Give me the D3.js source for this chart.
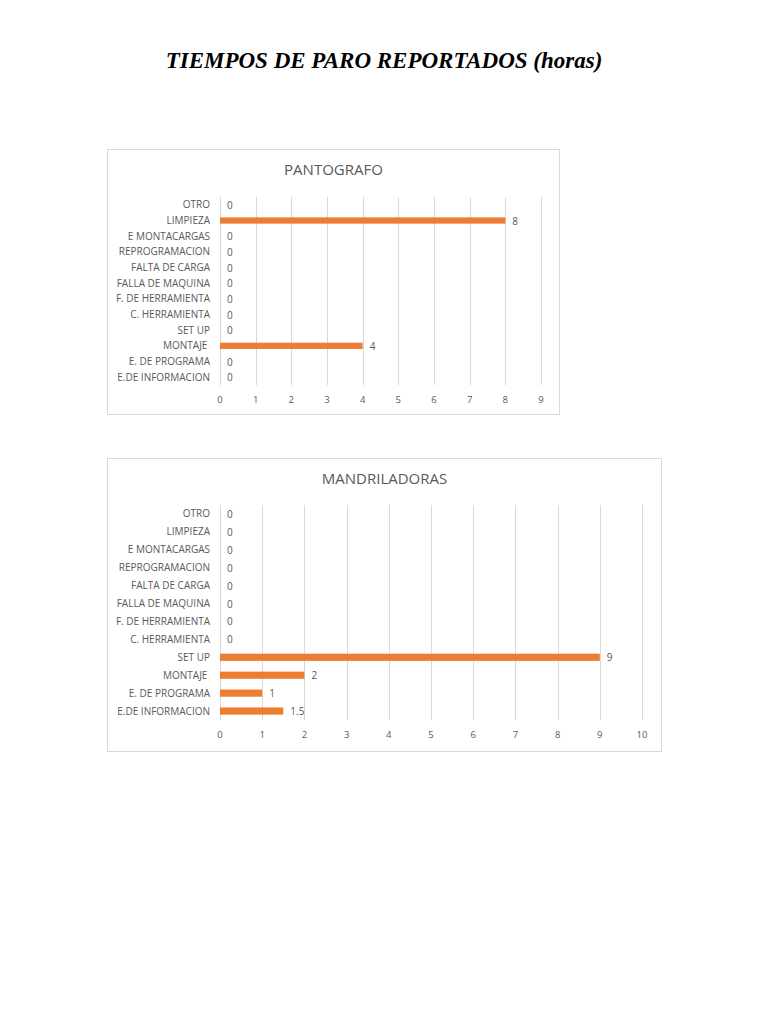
<!DOCTYPE html>
<html>
<head>
    <meta charset="utf-8">
    <title>Tiempos de paro reportados</title>
    <script src="https://d3js.org/d3.v7.min.js"></script>
    <style>
        body {
            margin: 0;
            background: white;
        }
        svg {
            display: block;
        }
        .cat, .val, .tick-lbl, .ctitle {
            font-family: 'Open Sans', sans-serif;
            fill: #595959;
        }
        .cat { white-space: pre; }
    </style>
</head>
<body>
<svg width="768" height="1024"></svg>

<script>
    // categories, top to bottom as drawn
    let categories = ["OTRO", "LIMPIEZA", "E MONTACARGAS", "REPROGRAMACION", "FALTA DE CARGA",
        "FALLA DE MAQUINA", "F. DE HERRAMIENTA", "C. HERRAMIENTA", "SET UP", "MONTAJE ",
        "E. DE PROGRAMA", "E.DE INFORMACION"]

    let pantografoValues = [0, 8, 0, 0, 0, 0, 0, 0, 0, 4, 0, 0]
    let mandriladorasValues = [0, 0, 0, 0, 0, 0, 0, 0, 9, 2, 1, 1.5]

    let pantografoTicks = [0, 1, 2, 3, 4, 5, 6, 7, 8, 9]
    let mandriladorasTicks = [0, 1, 2, 3, 4, 5, 6, 7, 8, 9, 10]

    let svg = d3.select("svg")

    svg.append("text")
        .text("TIEMPOS DE PARO REPORTADOS (horas)")
        .attr("x", 384)
        .attr("y", 68)
        .attr("text-anchor", "middle")
        .attr("font-family", "'Liberation Serif', serif")
        .attr("font-style", "italic")
        .attr("font-weight", "bold")
        .attr("font-size", "23px")
        .attr("fill", "black")

    function drawChart(opts) {
        let g = svg.append("g")

        // chart frame
        g.append("rect")
            .attr("x", opts.box[0] + 0.5)
            .attr("y", opts.box[1] + 0.5)
            .attr("width", opts.box[2])
            .attr("height", opts.box[3])
            .style("fill", "white")
            .style("stroke", "#d9d9d9")

        g.append("text").attr("class", "ctitle")
            .text(opts.title)
            .attr("x", opts.box[0] + opts.box[2] / 2 + 0.5)
            .attr("y", opts.titleY)
            .attr("text-anchor", "middle")
            .attr("font-size", "15px")

        let x = d3.scaleLinear()
            .domain([0, d3.max(opts.ticks)])
            .range([opts.left, opts.right])

        let y = d3.scaleBand()
            .domain(categories)
            .range([opts.top, opts.bottom])
            .paddingInner(0.6)
            .paddingOuter(0.3)

        // vertical gridlines
        g.append("g")
            .selectAll("line")
            .data(opts.ticks)
            .join("line")
            .attr("x1", d => Math.round(x(d)) + 0.5)
            .attr("x2", d => Math.round(x(d)) + 0.5)
            .attr("y1", opts.top)
            .attr("y2", opts.bottom)
            .style("stroke", "#d9d9d9")
            .style("stroke-width", 1)

        // x tick labels
        g.append("g")
            .selectAll("text")
            .data(opts.ticks)
            .join("text")
            .attr("class", "tick-lbl")
            .text(d => d)
            .attr("x", d => x(d))
            .attr("y", opts.bottom + 18)
            .attr("text-anchor", "middle")
            .attr("font-size", "9.5px")

        // category labels
        g.append("g")
            .selectAll("text")
            .data(categories)
            .join("text")
            .attr("class", "cat")
            .text(d => d)
            .attr("x", opts.left - 10)
            .attr("y", d => y(d) + y.bandwidth() / 2)
            .attr("dy", "0.35em")
            .attr("text-anchor", "end")
            .attr("font-size", "10px")

        let rows = categories.map((c, i) => ({ cat: c, v: opts.values[i] }))

        // bars
        g.append("g")
            .selectAll("rect")
            .data(rows.filter(d => d.v > 0))
            .join("rect")
            .attr("x", x(0))
            .attr("y", d => y(d.cat))
            .attr("width", d => x(d.v) - x(0))
            .attr("height", y.bandwidth())
            .style("fill", "#ed7d31")

        // value labels
        g.append("g")
            .selectAll("text")
            .data(rows)
            .join("text")
            .attr("class", "val")
            .text(d => d.v)
            .attr("x", d => x(d.v) + 7)
            .attr("y", d => y(d.cat) + y.bandwidth() / 2)
            .attr("dy", "0.4em")
            .attr("font-size", "10px")
    }

    drawChart({
        title: "PANTOGRAFO",
        values: pantografoValues,
        ticks: pantografoTicks,
        box: [107, 149, 452, 265],
        titleY: 175,
        left: 220, right: 541,
        top: 197, bottom: 385
    })

    drawChart({
        title: "MANDRILADORAS",
        values: mandriladorasValues,
        ticks: mandriladorasTicks,
        box: [107, 458, 554, 293],
        titleY: 484,
        left: 220, right: 642,
        top: 505, bottom: 720
    })
</script>
</body>
</html>
